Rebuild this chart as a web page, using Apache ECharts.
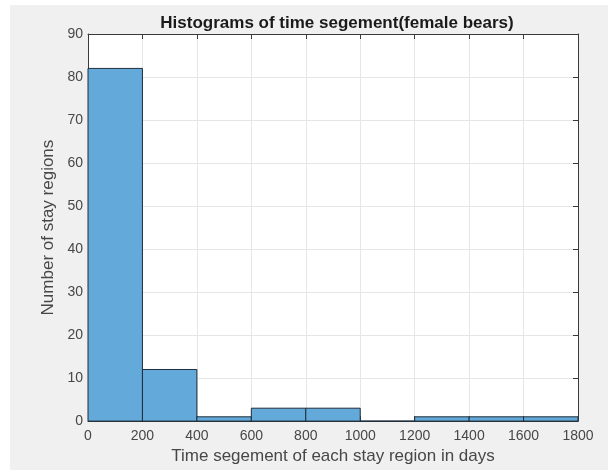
<!DOCTYPE html>
<html>
<head>
<meta charset="utf-8">
<script src="https://cdn.jsdelivr.net/npm/echarts@6/dist/echarts.min.js"></script>
<style>
html,body{margin:0;padding:0;background:#ffffff;}
#main{width:608px;height:470px;}
</style>
</head>
<body>
<div id="main"></div>
<script>
const binStarts = [0, 200, 400, 600, 800, 1000, 1200, 1400, 1600];
const binEnds   = [200, 400, 600, 800, 1000, 1200, 1400, 1600, 1800];
const counts    = [82, 12, 1, 3, 3, 0, 1, 1, 1];
const xTicks = [0, 200, 400, 600, 800, 1000, 1200, 1400, 1600, 1800];
const yTicks = [0, 10, 20, 30, 40, 50, 60, 70, 80, 90];

const chart = echarts.init(document.getElementById('main'), null, {renderer:'canvas'});
const data = binStarts.map((s, i) => [s, binEnds[i], counts[i]]);
const font = 'Liberation Sans, Arial, Helvetica, sans-serif';
const axisColor = '#3a3a3a';
const labelColor = '#474747';

const option = {
  backgroundColor: '#f0f0f0',
  animation: false,
  graphic: [
    {type:'rect', shape:{x:0,y:0,width:10,height:470}, style:{fill:'#ffffff'}, z:-10},
    {type:'rect', shape:{x:0,y:0,width:608,height:5}, style:{fill:'#ffffff'}, z:-10}
  ],
  title: {
    text: 'Histograms of time segement(female bears)',
    left: 332, top: 10, textAlign: 'center',
    textStyle: {fontFamily: font, fontSize: 17, fontWeight: 'bold', color: '#1a1a1a'}
  },
  grid: {left: 88, top: 34, right: 30, bottom: 48, show: true, backgroundColor: '#ffffff', borderWidth: 0},
  xAxis: [{
    type: 'value', min: 0, max: 1800, interval: 200, position: 'bottom',
    name: 'Time segement of each stay region in days', nameLocation: 'middle', nameGap: 22,
    nameTextStyle: {fontFamily: font, fontSize: 17, color: labelColor},
    axisLine: {show: true, onZero:false, lineStyle: {color: axisColor, width: 1}},
    axisTick: {show: true, inside: true, length: 5, lineStyle: {color: axisColor}},
    axisLabel: {fontFamily: font, fontSize: 14, color: labelColor, margin: 8,
      formatter: v => xTicks.includes(v) ? String(v) : ''},
    splitLine: {show: true, lineStyle: {color: '#e6e6e6', width: 1}}
  },{
    type: 'value', min: 0, max: 1800, interval: 200, position: 'top',
    axisLine: {show: true, onZero:false, lineStyle: {color: axisColor, width: 1}},
    axisTick: {show: true, inside: true, length: 5, lineStyle: {color: axisColor}},
    axisLabel: {show: false}, splitLine: {show: false}
  }],
  yAxis: [{
    type: 'value', min: 0, max: 90, interval: 10, position: 'left',
    name: 'Number of stay regions', nameLocation: 'middle', nameGap: 28,
    nameTextStyle: {fontFamily: font, fontSize: 17, color: labelColor},
    axisLine: {show: true, onZero:false, lineStyle: {color: axisColor, width: 1}},
    axisTick: {show: true, inside: true, length: 5, lineStyle: {color: axisColor}},
    axisLabel: {fontFamily: font, fontSize: 14, color: labelColor, margin: 5,
      formatter: v => yTicks.includes(v) ? String(v) : ''},
    splitLine: {show: true, lineStyle: {color: '#e6e6e6', width: 1}}
  },{
    type: 'value', min: 0, max: 90, interval: 10, position: 'right',
    axisLine: {show: true, onZero:false, lineStyle: {color: axisColor, width: 1}},
    axisTick: {show: true, inside: true, length: 5, lineStyle: {color: axisColor}},
    axisLabel: {show: false}, splitLine: {show: false}
  }],
  series: [{
    type: 'custom',
    xAxisIndex: 0, yAxisIndex: 0,
    data: data,
    encode: {x: [0, 1], y: 2},
    renderItem: function (params, api) {
      const p0 = api.coord([api.value(0), api.value(2)]);
      const p1 = api.coord([api.value(1), 0]);
      return {
        type: 'rect',
        shape: {x: p0[0], y: p0[1], width: p1[0] - p0[0], height: p1[1] - p0[1]},
        style: {fill: '#63a9d9', stroke: '#1e2e3c', lineWidth: 1}
      };
    }
  }]
};
chart.setOption(option);
</script>
</body>
</html>
